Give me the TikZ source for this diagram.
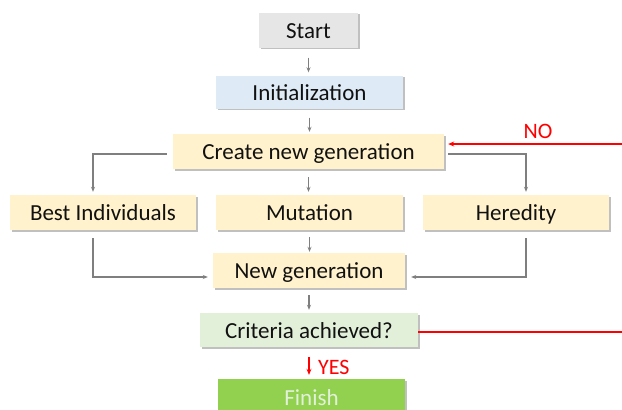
\documentclass[tikz,border=0pt]{standalone}
\usepackage{fontspec}
\setmainfont{Carlito}
\usetikzlibrary{arrows.meta,shadows}
\definecolor{boxgrey}{HTML}{E7E6E6}
\definecolor{boxblue}{HTML}{DEEBF7}
\definecolor{boxyellow}{HTML}{FFF2CC}
\definecolor{boxgreen}{HTML}{E2F0D9}
\definecolor{finishgreen}{HTML}{92D050}
\definecolor{linegrey}{HTML}{7F7F7F}
\definecolor{txt}{HTML}{111111}
\tikzset{
  box/.style={draw=none, inner sep=0pt, text=txt,
    font=\fontsize{23}{27}\selectfont, text height=16pt, text depth=0pt,
    drop shadow={shadow xshift=1.6pt, shadow yshift=-1.6pt, opacity=0.45, fill=black!55}},
  conn/.style={draw=linegrey, line width=1.2pt, -{Stealth[length=5pt,width=4pt]}},
  redconn/.style={draw=red, line width=1.3pt},
  redlbl/.style={text=red, font=\fontsize{22}{26}\selectfont, inner sep=0pt}
}
\begin{document}
\begin{tikzpicture}[x=1pt,y=-1pt]
\useasboundingbox (0,0) rectangle (622,410);
\clip (0,0) rectangle (622,410);
\node[box, fill=boxgrey, minimum width=99pt, minimum height=35pt] (start) at (308.5,30) {Start};
\node[box, fill=boxblue, minimum width=187pt, minimum height=33pt] (init) at (309.5,92) {Initialization};
\node[box, fill=boxyellow, minimum width=271pt, minimum height=35pt] (create) at (308.5,151.5) {Create new generation};
\node[box, fill=boxyellow, minimum width=186pt, minimum height=35pt] (best) at (103,212.5) {Best Individuals};
\node[box, fill=boxyellow, minimum width=187pt, minimum height=35pt] (mut) at (309.5,212.5) {Mutation};
\node[box, fill=boxyellow, minimum width=186pt, minimum height=35pt] (her) at (516,212.5) {Heredity};
\node[box, fill=boxyellow, minimum width=192pt, minimum height=35pt] (newgen) at (309,270.5) {New generation};
\node[box, fill=boxgreen, minimum width=218pt, minimum height=34pt] (crit) at (309,330) {Criteria achieved?};
\node[box, fill=finishgreen, text=boxgreen, minimum width=187pt, minimum height=36pt] (finish) at (311.5,397) {Finish};

\draw[conn, shorten <=10pt, shorten >=3pt] (start.south) -- (start.south |- init.north);
\draw[conn, shorten <=9pt, shorten >=2pt] (init.south) -- (init.south |- create.north);
\draw[conn, shorten <=8pt, shorten >=3pt] (create.south) -- (create.south |- mut.north);
\draw[conn, shorten <=7pt, shorten >=1pt] (mut.south) -- (mut.south |- newgen.north);
\draw[conn, shorten <=7pt, shorten >=3pt] (newgen.south) -- (newgen.south |- crit.north);

\draw[conn, shorten <=6pt, shorten >=3pt] ([yshift=-2.5pt]create.west) -| ([xshift=-10pt]best.north);
\draw[conn, shorten <=4pt, shorten >=3pt] ([yshift=-2.5pt]create.east) -| ([xshift=10pt]her.north);
\draw[conn, shorten <=8pt, shorten >=5pt] ([xshift=-10pt]best.south) |- ([yshift=-6.5pt]newgen.west);
\draw[conn, shorten <=8pt, shorten >=6pt] ([xshift=10pt]her.south) |- ([yshift=-6.5pt]newgen.east);

\coordinate (noR) at (622,144);
\coordinate (critR) at (622,332);
\draw[redconn, -{Stealth[length=6pt,width=5pt]}, shorten >=4pt] (noR) -- (noR -| create.east);
\node[redlbl] (no) at (538,131) {NO};
\draw[redconn] ([yshift=-2pt]crit.east) -- (critR);
\draw[redconn, -{Stealth[length=6pt,width=5pt]}, shorten <=10pt, shorten >=4pt] (crit.south) -- (crit.south |- finish.north);
\node[redlbl, anchor=west] (yes) at (318,367) {YES};
\end{tikzpicture}
\end{document}
